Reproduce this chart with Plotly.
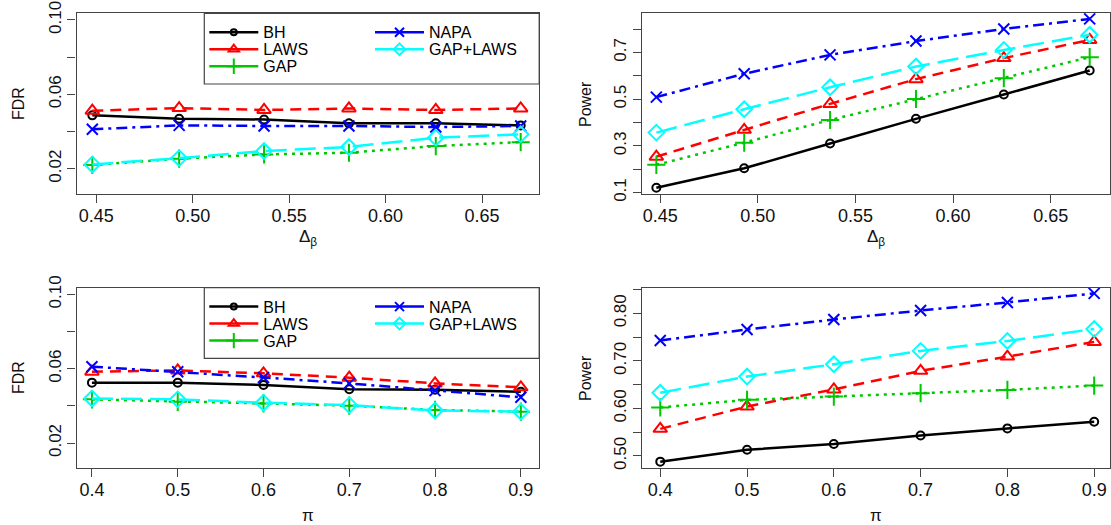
import plotly.graph_objects as go

W, H = 1111, 525

# ---------------- data ----------------
delta_beta = [0.448, 0.493, 0.537, 0.581, 0.626, 0.670]
pi_vals = [0.4, 0.5, 0.6, 0.7, 0.8, 0.9]
methods = ["BH", "LAWS", "GAP", "NAPA", "GAP+LAWS"]

# FDR vs Delta_beta
fdr_d_bh = [0.0487, 0.0469, 0.0465, 0.0444, 0.0444, 0.0433]
fdr_d_laws = [0.0512, 0.0526, 0.0516, 0.0524, 0.0516, 0.0524]
fdr_d_gap = [0.0220, 0.0254, 0.0277, 0.0286, 0.0322, 0.0343]
fdr_d_napa = [0.0412, 0.0433, 0.0430, 0.0430, 0.0424, 0.0430]
fdr_d_gaplaws = [0.0223, 0.0257, 0.0295, 0.0317, 0.0367, 0.0385]

# Power vs Delta_beta
pow_d_bh = [0.121, 0.204, 0.310, 0.416, 0.520, 0.623]
pow_d_laws = [0.254, 0.369, 0.480, 0.586, 0.676, 0.754]
pow_d_gap = [0.219, 0.314, 0.411, 0.501, 0.590, 0.680]
pow_d_napa = [0.509, 0.609, 0.690, 0.749, 0.801, 0.844]
pow_d_gaplaws = [0.357, 0.457, 0.551, 0.640, 0.711, 0.776]

# FDR vs pi
fdr_p_bh = [0.0525, 0.0525, 0.0512, 0.0489, 0.0487, 0.0476]
fdr_p_laws = [0.0584, 0.0591, 0.0575, 0.0552, 0.0521, 0.0500]
fdr_p_gap = [0.0435, 0.0422, 0.0413, 0.0401, 0.0378, 0.0369]
fdr_p_napa = [0.0611, 0.0584, 0.0553, 0.0521, 0.0482, 0.0446]
fdr_p_gaplaws = [0.0440, 0.0435, 0.0417, 0.0404, 0.0375, 0.0369]

# Power vs pi
pow_p_bh = [0.488, 0.513, 0.525, 0.543, 0.558, 0.572]
pow_p_laws = [0.557, 0.604, 0.640, 0.679, 0.709, 0.740]
pow_p_gap = [0.602, 0.618, 0.625, 0.632, 0.639, 0.648]
pow_p_napa = [0.743, 0.766, 0.787, 0.806, 0.823, 0.842]
pow_p_gaplaws = [0.633, 0.667, 0.693, 0.721, 0.742, 0.767]

fdr_ticks = [0.02, 0.06, 0.10]
fdr_minor = [0.04, 0.08]
pow_d_ticks = [0.1, 0.3, 0.5, 0.7]
pow_d_minor = [0.2, 0.4, 0.6, 0.8]
pow_p_ticks = [0.50, 0.60, 0.70, 0.80]
pow_p_minor = [0.55, 0.65, 0.75, 0.85]
delta_ticks = [0.45, 0.50, 0.55, 0.60, 0.65]
pi_ticks = [0.4, 0.5, 0.6, 0.7, 0.8, 0.9]

# ---------------- styles ----------------
colors = {"BH": "#000000", "LAWS": "#FF0000", "GAP": "#00C800",
          "NAPA": "#0000FF", "GAP+LAWS": "#00FFFF"}
dashes = {"BH": "solid", "LAWS": "11px,7px", "GAP": "3px,5px",
          "NAPA": "11px,5px,3px,5px", "GAP+LAWS": "21px,8px"}
symbols = {"BH": "circle-open", "LAWS": "triangle-up-open", "GAP": "cross-thin-open",
           "NAPA": "x-thin-open", "GAP+LAWS": "diamond-open"}
msizes = {"BH": 8, "LAWS": 12, "GAP": 13, "NAPA": 11, "GAP+LAWS": 12}
lsizes = {"BH": 6, "LAWS": 9, "GAP": 11, "NAPA": 9, "GAP+LAWS": 9}

FONT = "Liberation Sans, Arial, sans-serif"

panels = [
    ("x", "y", delta_beta, [fdr_d_bh, fdr_d_laws, fdr_d_gap, fdr_d_napa, fdr_d_gaplaws]),
    ("x2", "y2", delta_beta, [pow_d_bh, pow_d_laws, pow_d_gap, pow_d_napa, pow_d_gaplaws]),
    ("x3", "y3", pi_vals, [fdr_p_bh, fdr_p_laws, fdr_p_gap, fdr_p_napa, fdr_p_gaplaws]),
    ("x4", "y4", pi_vals, [pow_p_bh, pow_p_laws, pow_p_gap, pow_p_napa, pow_p_gaplaws]),
]

fig = go.Figure()
for xa, ya, xs, series in panels:
    for m, ys in zip(methods, series):
        fig.add_trace(go.Scatter(
            x=xs, y=ys, xaxis=xa, yaxis=ya, mode="lines+markers",
            line=dict(color=colors[m], width=2.5, dash=dashes[m]),
            marker=dict(symbol=symbols[m], size=msizes[m], color=colors[m],
                        line=dict(color=colors[m], width=2)),
            showlegend=False, name=m, cliponaxis=False))

# legends (one single-entry legend per item, R style two-column layout)
col_of = {"BH": 0, "LAWS": 0, "GAP": 0, "NAPA": 1, "GAP+LAWS": 1}
row_of = {"BH": 0, "LAWS": 1, "GAP": 2, "NAPA": 0, "GAP+LAWS": 1}
col_x = [204.3, 370.0]
row_y = [32.3, 49.3, 66.3]
legend_layouts = {}
n = 0
for xa, ya, yoff in [("x", "y", 0.0), ("x3", "y3", 274.4)]:
    for m in methods:
        n += 1
        lname = "legend" if n == 1 else f"legend{n}"
        fig.add_trace(go.Scatter(
            x=[None], y=[None], xaxis=xa, yaxis=ya, mode="lines+markers", name=m,
            line=dict(color=colors[m], width=2.5),
            marker=dict(symbol=symbols[m], size=lsizes[m], color=colors[m],
                        line=dict(color=colors[m], width=2)),
            showlegend=True, legend=lname))
        legend_layouts[lname] = dict(
            x=col_x[col_of[m]] / W, xanchor="left",
            y=1 - (row_y[row_of[m]] + yoff) / H, yanchor="middle",
            bgcolor="rgba(0,0,0,0)", borderwidth=0, itemwidth=49,
            font=dict(family=FONT, size=16, color="#000"),
            itemclick=False, itemdoubleclick=False)

# ---------------- layout ----------------
xl, xr = 76.5 / W, 539.2 / W
xl2, xr2 = 642.3 / W, 1109.8 / W
yt1, yb1 = 1 - 13.3 / H, 1 - 194 / H
yt2, yb2 = 1 - 287.7 / H, 1 - 468.3 / H

def xax(domain, rng, tv, fmt, anchor):
    return dict(domain=domain, range=rng, tickvals=tv, tickformat=fmt, anchor=anchor,
                showline=True, mirror=True, linecolor="#444", linewidth=1.2,
                ticks="outside", ticklen=8, tickcolor="#444", tickwidth=1,
                showgrid=False, zeroline=False, automargin=False,
                ticklabelstandoff=-3,
                tickfont=dict(family=FONT, size=18, color="#111"))

def yax(domain, rng, tv, minor, fmt, anchor):
    return dict(domain=domain, range=rng, tickvals=tv, tickformat=fmt, anchor=anchor,
                showline=True, mirror=True, linecolor="#444", linewidth=1.2,
                ticks="outside", ticklen=8, tickcolor="#444", tickwidth=1,
                minor=dict(tickvals=minor, ticks="outside", ticklen=8,
                           tickcolor="#444", tickwidth=1, showgrid=False),
                tickangle=-90, showgrid=False, zeroline=False, automargin=False,
                ticklabelstandoff=0,
                tickfont=dict(family=FONT, size=17, color="#111"))

layout = dict(
    width=W, height=H, margin=dict(l=0, r=0, t=0, b=0),
    paper_bgcolor="white", plot_bgcolor="white",
    xaxis=xax([xl, xr], [0.4398, 0.6796], delta_ticks, ".2f", "y"),
    yaxis=yax([yb1, yt1], [0.0064, 0.1036], fdr_ticks, fdr_minor, ".2f", "x"),
    xaxis2=xax([xl2, xr2], [0.4408, 0.6803], delta_ticks, ".2f", "y2"),
    yaxis2=yax([yb1, yt1], [0.094, 0.868], pow_d_ticks, pow_d_minor, ".1f", "x2"),
    xaxis3=xax([xl, xr], [0.382, 0.9214], pi_ticks, ".1f", "y3"),
    yaxis3=yax([yb2, yt2], [0.0064, 0.1036], fdr_ticks, fdr_minor, ".2f", "x3"),
    xaxis4=xax([xl2, xr2], [0.3793, 0.918], pi_ticks, ".1f", "y4"),
    yaxis4=yax([yb2, yt2], [0.474, 0.854], pow_p_ticks, pow_p_minor, ".2f", "x4"),
)
layout.update(legend_layouts)
fig.update_layout(**layout)

# legend boxes
for top, bot in [(13.3, 84.0), (287.7, 358.4)]:
    fig.add_shape(type="rect", xref="paper", yref="paper",
                  x0=204.3 / W, x1=539.2 / W, y0=1 - bot / H, y1=1 - top / H,
                  line=dict(color="#444", width=1.2), fillcolor="rgba(0,0,0,0)")

# axis titles
def ann(text, xpx, ypx, angle=0, size=16):
    fig.add_annotation(text=text, x=xpx / W, y=1 - ypx / H, xref="paper", yref="paper",
                       showarrow=False, textangle=angle, xanchor="center", yanchor="middle",
                       font=dict(family=FONT, size=size, color="#111"))

ann("FDR", 18, 104, -90)
ann("Power", 585, 104, -90)
ann("FDR", 18, 378, -90)
ann("Power", 585, 378, -90)
ann("Δ<sub>β</sub>", 308, 238, size=17)
ann("Δ<sub>β</sub>", 876, 238, size=17)
ann("π", 308, 515, size=17)
ann("π", 876, 515, size=17)

fig.write_html("out.html")
